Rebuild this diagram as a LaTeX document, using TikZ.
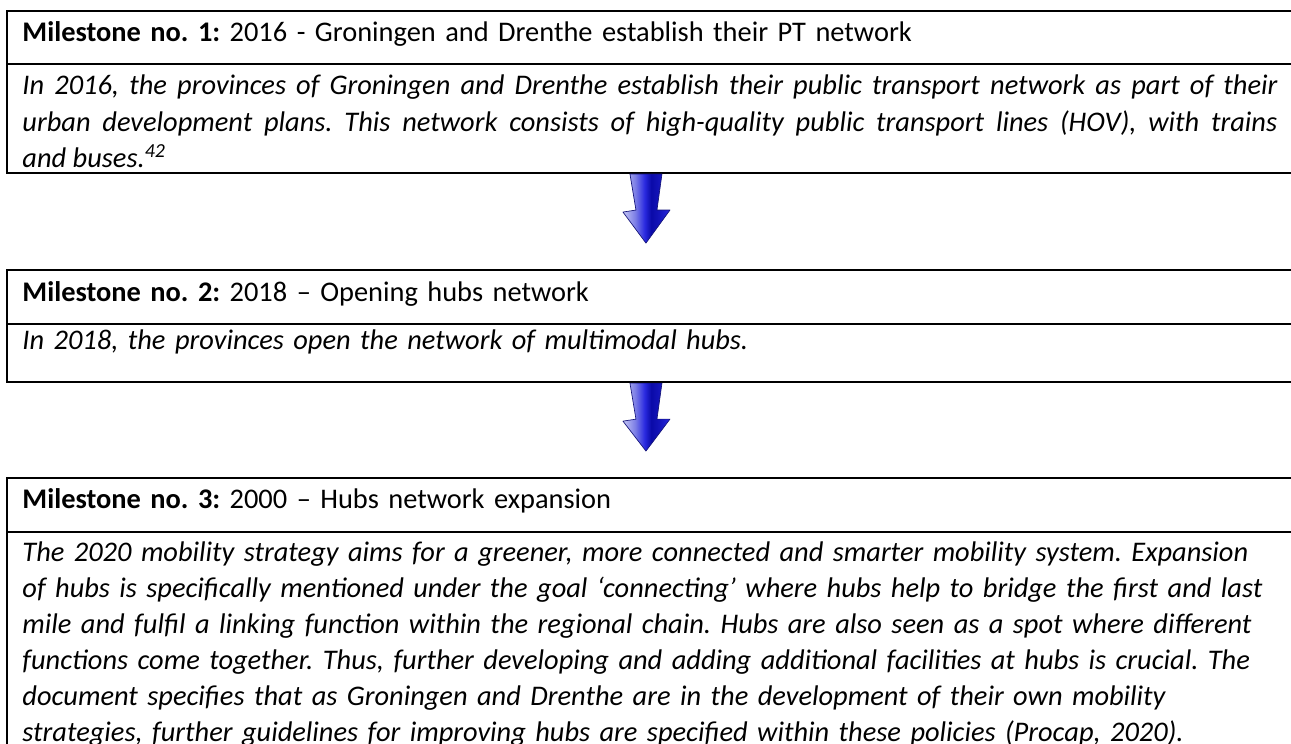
\documentclass[tikz,border=0pt]{standalone}
\usepackage{fontspec}
\setmainfont{Carlito}
\usetikzlibrary{positioning}
\definecolor{arrowLight}{HTML}{C4C6F4}
\definecolor{arrowSoft}{HTML}{7C7EE6}
\definecolor{arrowMid}{HTML}{2A2AE0}
\definecolor{arrowDark}{HTML}{0A0AA8}
\definecolor{arrowEdge}{HTML}{15157A}
% light on the left, dark ridge, bright blue on the right
\pgfdeclarehorizontalshading{arrowshade}{100bp}{color(0bp)=(arrowLight); color(25bp)=(arrowLight);
  color(38bp)=(arrowSoft); color(48bp)=(arrowMid); color(55bp)=(arrowDark);
  color(63bp)=(arrowDark!70!arrowMid); color(75bp)=(arrowMid); color(100bp)=(arrowMid)}

\begin{document}
\frenchspacing
\begin{tikzpicture}[x=0.44pt,y=-0.44pt,
  cell/.style={draw=black,line width=1pt,inner sep=0pt,outer sep=0pt,minimum width=565.8pt},
  celltext/.style={anchor=base west,inner sep=0pt,text width=552.2pt,
    font=\fontsize{12.5}{15.9}\selectfont},
  bodytext/.style={celltext,font=\itshape\fontsize{12.5}{15.9}\selectfont},
  bigarrow/.style={shading=arrowshade,draw=arrowEdge,line width=0.3pt,line join=round}]
  \useasboundingbox (0,0) rectangle (1291,743);
  \clip (0,0) rectangle (1291,743);

  % milestone frames, stacked down the page
  \node[cell,anchor=north west,minimum height=23.3pt] (head1) at (7,11) {};
  \node[cell,below=0pt of head1,minimum height=48pt] (body1) {};
  \node[cell,below=42.7pt of body1,minimum height=23.8pt] (head2) {};
  \node[cell,below=0pt of head2,minimum height=25.5pt] (body2) {};
  \node[cell,below=42.2pt of body2,minimum height=23.8pt] (head3) {};
  \node[cell,below=0pt of head3,minimum height=132pt] (body3) {};

  % texts
  \node[celltext] (head1txt) at ([shift={(15,30)}]head1.north west)
    {\textbf{Milestone no. 1:} 2016 - Groningen and Drenthe establish their PT network};
  \node[bodytext,align=justify] (body1txt) at ([shift={(15,31)}]body1.north west)
    {In 2016, the provinces of Groningen and Drenthe establish their public transport network as part of their\linebreak
     urban development plans. This network consists of high-quality public transport lines (HOV), with trains\linebreak
     and buses.\textsuperscript{42}};
  \node[celltext] (head2txt) at ([shift={(15,31)}]head2.north west)
    {\textbf{Milestone no. 2:} 2018 – Opening hubs network};
  \node[bodytext] (body2txt) at ([shift={(15,25)}]body2.north west)
    {In 2018, the provinces open the network of multimodal hubs.};
  \node[celltext] (head3txt) at ([shift={(15,30)}]head3.north west)
    {\textbf{Milestone no. 3:} 2000 – Hubs network expansion};
  \node[bodytext,align=left] (body3txt) at ([shift={(15,29)}]body3.north west)
    {The 2020 mobility strategy aims for a greener, more connected and smarter mobility system. Expansion\\
     of hubs is specifically mentioned under the goal ‘connecting’ where hubs help to bridge the first and last\\
     mile and fulfil a linking function within the regional chain. Hubs are also seen as a spot where different\\
     functions come together. Thus, further developing and adding additional facilities at hubs is crucial. The\\
     document specifies that as Groningen and Drenthe are in the development of their own mobility\\
     strategies, further guidelines for improving hubs are specified within these policies (Procap, 2020).};

  % fat arrows between the milestones
  \foreach \from/\to in {body1/head2,body2/head3}
    \path[bigarrow] ([shift={(-20,1)}]\from.south) -- ([shift={(-14,37)}]\from.south)
      -- ([shift={(-27,39)}]\from.south) -- ([shift={(-4,-27)}]\to.north)
      -- ([shift={(20,37)}]\from.south) -- ([shift={(7,37)}]\from.south)
      -- ([shift={(12,1)}]\from.south) -- cycle;
\end{tikzpicture}
\end{document}
